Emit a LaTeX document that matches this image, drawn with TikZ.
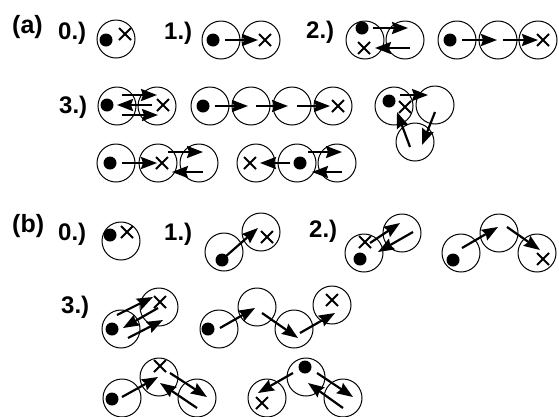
\documentclass[tikz,border=0pt]{standalone}
\usepackage{fontspec}
\setmainfont{Liberation Sans}
\usetikzlibrary{shapes,shapes.misc,arrows.meta,positioning,calc}

\tikzset{
  site/.style={circle, draw, line width=1pt, minimum size=38pt, inner sep=0pt},
  eldot/.style={circle, fill, minimum size=13pt, inner sep=0pt},
  xmark/.style={cross out, draw, line width=2pt, minimum size=10pt, inner sep=0pt},
  hop/.style={line width=2.2pt, -{Stealth[length=16pt,width=12pt,inset=2pt]}},
  numtag/.style={font=\bfseries\fontsize{24}{24}\selectfont, anchor=base west, inner sep=0pt},
  parttag/.style={font=\bfseries\fontsize{25}{25}\selectfont, anchor=base west, inner sep=0pt}
}

\begin{document}
\begin{tikzpicture}[x=1pt, y=-1pt]
\useasboundingbox (0,0) rectangle (559,416);

% ---- (a) ----
\node[parttag] (pa) at (12,33) {(a)};
\node[numtag] (a0t) at (58,39) {0.)};
\node[numtag] (a1t) at (164,39) {1.)};
\node[numtag] (a2t) at (306,38) {2.)};
\node[numtag] (a3t) at (59,113) {3.)};

\node[site] (a0s) at (116,39) {};
\node[eldot] (a0d) at (106,40) {};
\node[xmark] (a0x) at (125,34) {};

\node[site] (a1s1) at (221,40) {};
\node[site] (a1s2) at (261,40) {};
\node[eldot] (a1d) at (213,40) {};
\node[xmark] (a1x) at (265,40) {};
\draw[hop] ([xshift=4pt]a1s1.center) -- ([xshift=-3pt]a1s2.center);

\node[site] (a2s1) at (365,40) {};
\node[site] (a2s2) at (405,40) {};
\node[eldot] (a2d) at (362,28) {};
\node[xmark] (a2x) at (364,48) {};
\draw[hop] ([shift={(8,-12)}]a2s1.center) -- ([shift={(3,-12)}]a2s2.center);
\draw[hop] ([shift={(5,8)}]a2s2.center) -- ([shift={(10,8)}]a2s1.center);

\node[site] (a2c1) at (457,40) {};
\node[site] (a2c2) at (498,40) {};
\node[site] (a2c3) at (538,40) {};
\node[eldot] (a2cd) at (450,40) {};
\node[xmark] (a2cx) at (543,40) {};
\draw[hop] ([xshift=5pt]a2c1.center) -- ([xshift=-1pt]a2c2.center);
\draw[hop] ([xshift=5pt]a2c2.center) -- (a2c3.center);

\node[site] (a3p1) at (117,106) {};
\node[site] (a3p2) at (157,106) {};
\node[eldot] (a3pd) at (107,105) {};
\node[xmark] (a3px) at (163,105) {};
\draw[hop] ([shift={(5,-11)}]a3p1.center) -- ([shift={(0,-11)}]a3p2.center);
\draw[hop] ([shift={(-5,-1)}]a3p2.center) -- ([shift={(0,-1)}]a3p1.center);
\draw[hop] ([shift={(5,9)}]a3p1.center) -- ([shift={(1,9)}]a3p2.center);

\node[site] (a3c1) at (210,106) {};
\node[site] (a3c2) at (251,106) {};
\node[site] (a3c3) at (292,106) {};
\node[site] (a3c4) at (333,106) {};
\node[eldot] (a3cd) at (203,106) {};
\node[xmark] (a3cx) at (338,106) {};
\draw[hop] ([xshift=5pt]a3c1.center) -- ([xshift=-3pt]a3c2.center);
\draw[hop] ([xshift=5pt]a3c2.center) -- ([xshift=-4pt]a3c3.center);
\draw[hop] ([xshift=5pt]a3c3.center) -- ([xshift=-3pt]a3c4.center);

\node[site] (a3t1) at (394,106) {};
\node[site] (a3t2) at (435,105) {};
\node[site] (a3t3) at (415,142) {};
\node[eldot] (a3td) at (389,101) {};
\node[xmark] (a3tx) at (405,107) {};
\draw[hop] ([shift={(6,-11)}]a3t1.center) -- ([shift={(-7,-10)}]a3t2.center);
\draw[hop] ([shift={(0,7)}]a3t2.center) -- ([shift={(7,3)}]a3t3.center);
\draw[hop] ([shift={(-5,5)}]a3t3.center) -- ([shift={(3,6)}]a3t1.center);

\node[site] (a3q1) at (116,163) {};
\node[site] (a3q2) at (158,163) {};
\node[site] (a3q3) at (199,163) {};
\node[eldot] (a3qd) at (110,163) {};
\node[xmark] (a3qx) at (162,163) {};
\draw[hop] ([xshift=6pt]a3q1.center) -- ([xshift=-1pt]a3q2.center);
\draw[hop] ([shift={(10,-11)}]a3q2.center) -- ([shift={(4,-11)}]a3q3.center);
\draw[hop] ([shift={(4,9)}]a3q3.center) -- ([shift={(14,9)}]a3q2.center);

\node[site] (a3r1) at (256,163) {};
\node[site] (a3r2) at (297,163) {};
\node[site] (a3r3) at (337,163) {};
\node[xmark] (a3rx) at (250,163) {};
\node[eldot] (a3rd) at (300,163) {};
\draw[hop] ([xshift=-7pt]a3r2.center) -- ([xshift=4pt]a3r1.center);
\draw[hop] ([shift={(11,-11)}]a3r2.center) -- ([shift={(5,-11)}]a3r3.center);
\draw[hop] ([shift={(5,9)}]a3r3.center) -- ([shift={(15,9)}]a3r2.center);

% ---- (b) ----
\node[parttag] (pb) at (12,232) {(b)};
\node[numtag] (b0t) at (58,240) {0.)};
\node[numtag] (b1t) at (164,240) {1.)};
\node[numtag] (b2t) at (309,237) {2.)};
\node[numtag] (b3t) at (61,313) {3.)};

\node[site] (b0s) at (121,241) {};
\node[eldot] (b0d) at (110,235) {};
\node[xmark] (b0x) at (127,232) {};

\node[site] (b1s1) at (224,252) {};
\node[site] (b1s2) at (261,232) {};
\node[eldot] (b1d) at (222,260) {};
\node[xmark] (b1x) at (267,237) {};
\draw[hop] ([shift={(1,5)}]b1s1.center) -- ([shift={(-3,-4)}]b1s2.center);

\node[site] (b2s1) at (364,253) {};
\node[site] (b2s2) at (402,233) {};
\node[xmark] (b2x) at (365,242) {};
\node[eldot] (b2d) at (360,259) {};
\draw[hop] ([shift={(6,-10)}]b2s1.center) -- ([shift={(-2,-10)}]b2s2.center);
\draw[hop] ([shift={(11,-1)}]b2s2.center) -- ([shift={(14,-1)}]b2s1.center);

\node[site] (b2c1) at (461,253) {};
\node[site] (b2c2) at (499,233) {};
\node[site] (b2c3) at (537,253) {};
\node[eldot] (b2cd) at (453,260) {};
\node[xmark] (b2cx) at (543,259) {};
\draw[hop] ([shift={(1,-5)}]b2c1.center) -- ([shift={(-1,-6)}]b2c2.center);
\draw[hop] ([shift={(8,-6)}]b2c2.center) -- ([shift={(3,-3)}]b2c3.center);

\node[site] (b3p1) at (121,329) {};
\node[site] (b3p2) at (159,307) {};
\node[eldot] (b3pd) at (112,329) {};
\node[xmark] (b3px) at (160,302) {};
\draw[hop] ([shift={(-4,-14)}]b3p1.center) -- ([shift={(-6,-10)}]b3p2.center);
\draw[hop] ([shift={(-1,1)}]b3p2.center) -- ([shift={(2,-1)}]b3p1.center);
\draw[hop] ([shift={(7,9)}]b3p1.center) -- ([shift={(4,13)}]b3p2.center);

\node[site] (b3c1) at (219,329) {};
\node[site] (b3c2) at (257,307) {};
\node[site] (b3c3) at (294,329) {};
\node[site] (b3c4) at (332,305) {};
\node[eldot] (b3cd) at (208,329) {};
\node[xmark] (b3cx) at (332,300) {};
\draw[hop] ([shift={(1,-1)}]b3c1.center) -- ([shift={(-2,1)}]b3c2.center);
\draw[hop] ([shift={(5,6)}]b3c2.center) -- ([shift={(4,9)}]b3c3.center);
\draw[hop] ([shift={(6,4)}]b3c3.center) -- ([shift={(3,8)}]b3c4.center);

\node[site] (b3q1) at (122,398) {};
\node[site] (b3q2) at (159,377) {};
\node[site] (b3q3) at (197,398) {};
\node[eldot] (b3qd) at (112,399) {};
\node[xmark] (b3qx) at (160,366) {};
\draw[hop] ([shift={(0,-1)}]b3q1.center) -- ([shift={(-1,0)}]b3q2.center);
\draw[hop] ([shift={(11,-4)}]b3q2.center) -- ([shift={(10,-1)}]b3q3.center);
\draw[hop] ([shift={(0,10)}]b3q3.center) -- ([shift={(1,6)}]b3q2.center);

\node[site] (b3r1) at (267,398) {};
\node[site] (b3r2) at (306,377) {};
\node[site] (b3r3) at (343,398) {};
\node[eldot] (b3rd) at (305,367) {};
\node[xmark] (b3rx) at (262,403) {};
\draw[hop] ([shift={(-13,-4)}]b3r2.center) -- ([shift={(-9,-5)}]b3r1.center);
\draw[hop] ([shift={(11,-4)}]b3r2.center) -- ([shift={(10,-1)}]b3r3.center);
\draw[hop] ([shift={(0,10)}]b3r3.center) -- ([shift={(2,6)}]b3r2.center);
\end{tikzpicture}
\end{document}
